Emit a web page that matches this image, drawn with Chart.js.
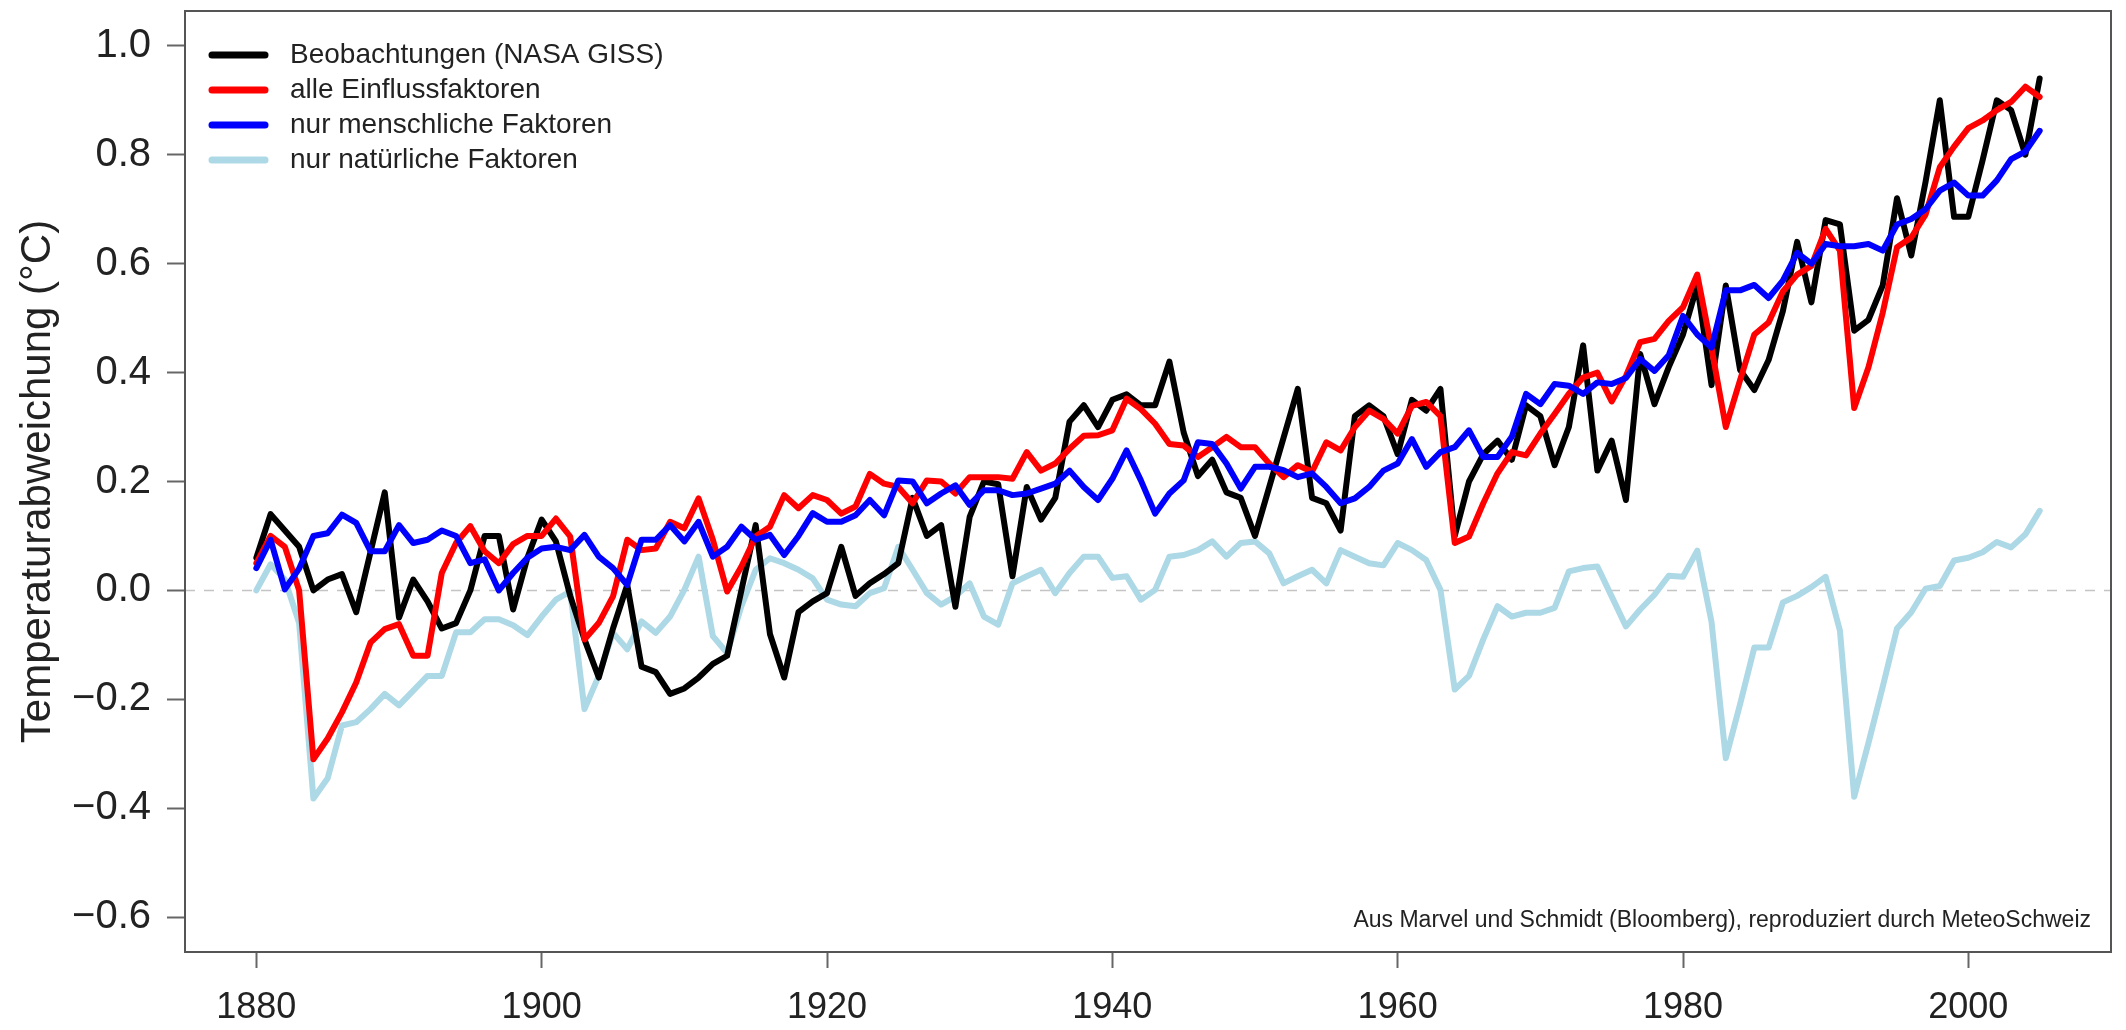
<!DOCTYPE html>
<html><head><meta charset="utf-8">
<script src="https://cdn.jsdelivr.net/npm/chart.js@4"></script>
<style>html,body{margin:0;padding:0;background:#fff}#wrap{width:2126px;height:1030px}</style>
</head><body><div id="wrap"><canvas id="c" width="2126" height="1030"></canvas></div>
<script>
const years = [
1880,1881,1882,1883,1884,1885,1886,1887,1888,1889,
1890,1891,1892,1893,1894,1895,1896,1897,1898,1899,
1900,1901,1902,1903,1904,1905,1906,1907,1908,1909,
1910,1911,1912,1913,1914,1915,1916,1917,1918,1919,
1920,1921,1922,1923,1924,1925,1926,1927,1928,1929,
1930,1931,1932,1933,1934,1935,1936,1937,1938,1939,
1940,1941,1942,1943,1944,1945,1946,1947,1948,1949,
1950,1951,1952,1953,1954,1955,1956,1957,1958,1959,
1960,1961,1962,1963,1964,1965,1966,1967,1968,1969,
1970,1971,1972,1973,1974,1975,1976,1977,1978,1979,
1980,1981,1982,1983,1984,1985,1986,1987,1988,1989,
1990,1991,1992,1993,1994,1995,1996,1997,1998,1999,
2000,2001,2002,2003,2004,2005];

const observations = [
0.06,0.14,0.11,0.08,0.00,0.02,0.03,-0.04,0.07,0.18,
-0.05,0.02,-0.02,-0.07,-0.06,0.00,0.10,0.10,-0.035,0.06,
0.13,0.09,-0.01,-0.09,-0.16,-0.07,0.01,-0.14,-0.15,-0.19,
-0.18,-0.16,-0.135,-0.12,0.00,0.12,-0.08,-0.16,-0.04,-0.02,
-0.005,0.08,-0.01,0.013,0.03,0.05,0.17,0.10,0.12,-0.03,
0.135,0.20,0.195,0.026,0.19,0.13,0.17,0.31,0.34,0.30,
0.35,0.36,0.34,0.34,0.42,0.29,0.21,0.24,0.18,0.17,
0.10,0.19,0.28,0.37,0.17,0.16,0.11,0.32,0.34,0.32,
0.25,0.35,0.33,0.37,0.10,0.20,0.25,0.275,0.24,0.34,
0.32,0.23,0.30,0.45,0.22,0.275,0.166,0.434,0.342,0.41,
0.47,0.56,0.377,0.56,0.405,0.368,0.423,0.513,0.64,0.529,
0.68,0.672,0.477,0.497,0.56,0.72,0.615,0.75,0.90,0.686,
0.686,0.79,0.90,0.882,0.80,0.94];

const allForcings = [
0.05,0.10,0.08,0.00,-0.31,-0.272,-0.224,-0.169,-0.096,-0.071,
-0.062,-0.12,-0.12,0.032,0.087,0.118,0.072,0.05,0.085,0.10,
0.10,0.132,0.099,-0.09,-0.06,-0.011,0.093,0.074,0.077,0.126,
0.114,0.169,0.093,-0.002,0.044,0.099,0.117,0.175,0.151,0.175,
0.166,0.141,0.154,0.214,0.196,0.19,0.16,0.202,0.20,0.178,
0.208,0.208,0.208,0.205,0.254,0.22,0.233,0.26,0.284,0.285,
0.294,0.352,0.333,0.306,0.269,0.266,0.245,0.263,0.282,0.263,
0.263,0.233,0.208,0.23,0.218,0.272,0.257,0.30,0.33,0.315,
0.288,0.339,0.346,0.32,0.087,0.099,0.16,0.215,0.254,0.248,
0.288,0.324,0.361,0.391,0.40,0.347,0.394,0.456,0.462,0.495,
0.52,0.58,0.445,0.30,0.386,0.47,0.492,0.549,0.58,0.596,
0.664,0.624,0.335,0.41,0.51,0.63,0.648,0.69,0.777,0.815,
0.849,0.863,0.882,0.897,0.925,0.906];

const humanOnly = [
0.041,0.093,0.002,0.04,0.10,0.105,0.139,0.124,0.072,0.072,
0.12,0.087,0.093,0.11,0.10,0.05,0.057,0.0,0.032,0.06,
0.077,0.08,0.074,0.102,0.062,0.041,0.01,0.093,0.093,0.12,
0.09,0.126,0.062,0.08,0.117,0.093,0.102,0.065,0.10,0.142,
0.126,0.126,0.138,0.166,0.138,0.202,0.20,0.16,0.178,0.193,
0.157,0.184,0.184,0.175,0.178,0.187,0.196,0.22,0.19,0.166,
0.205,0.257,0.202,0.141,0.178,0.202,0.272,0.269,0.233,0.187,
0.227,0.227,0.221,0.208,0.215,0.19,0.16,0.169,0.19,0.22,
0.233,0.278,0.227,0.254,0.263,0.294,0.245,0.245,0.282,0.361,
0.342,0.379,0.376,0.361,0.382,0.379,0.39,0.425,0.403,0.432,
0.504,0.47,0.446,0.551,0.551,0.561,0.537,0.569,0.62,0.60,
0.636,0.632,0.632,0.636,0.624,0.672,0.682,0.70,0.734,0.749,
0.725,0.725,0.753,0.792,0.806,0.844];

const naturalOnly = [
0.0,0.048,0.02,-0.06,-0.382,-0.345,-0.248,-0.242,-0.218,-0.19,
-0.211,-0.184,-0.157,-0.157,-0.077,-0.077,-0.053,-0.053,-0.064,-0.082,
-0.048,-0.017,-0.002,-0.218,-0.157,-0.078,-0.108,-0.057,-0.078,-0.048,
0.001,0.062,-0.084,-0.115,-0.029,0.038,0.059,0.05,0.038,0.022,
-0.017,-0.026,-0.029,-0.005,0.004,0.08,0.038,-0.005,-0.026,-0.011,
0.013,-0.048,-0.063,0.013,0.026,0.038,-0.005,0.032,0.062,0.062,
0.023,0.026,-0.017,0.001,0.062,0.065,0.074,0.09,0.062,0.087,
0.09,0.068,0.013,0.026,0.038,0.013,0.074,0.062,0.05,0.046,
0.087,0.074,0.056,0.001,-0.182,-0.157,-0.09,-0.029,-0.048,-0.041,
-0.041,-0.032,0.035,0.041,0.044,-0.011,-0.066,-0.035,-0.008,0.027,
0.025,0.073,-0.058,-0.308,-0.209,-0.105,-0.105,-0.022,-0.01,0.006,
0.025,-0.074,-0.379,-0.28,-0.177,-0.07,-0.04,0.003,0.008,0.055,
0.06,0.07,0.089,0.079,0.103,0.146];

const xTickValues = [1880,1900,1920,1940,1960,1980,2000];
const yTickValues = [-0.6,-0.4,-0.2,0,0.2,0.4,0.6,0.8,1.0];
const seriesNames = ['Beobachtungen (NASA GISS)','alle Einflussfaktoren','nur menschliche Faktoren','nur natürliche Faktoren'];
const seriesColors = ['#000000','#ff0000','#0000ff','#add8e6'];
const yAxisTitle = 'Temperaturabweichung (°C)';
const sourceNote = 'Aus Marvel und Schmidt (Bloomberg), reproduziert durch MeteoSchweiz';

const FONT = "'Liberation Sans', Arial, Helvetica, sans-serif";
const seriesValues = [observations, allForcings, humanOnly, naturalOnly];
const drawOrder = [2, 1, 0, 3];

const datasets = seriesValues.map((vals, i) => ({
  label: seriesNames[i],
  data: years.map((yr, k) => ({x: yr, y: vals[k]})),
  borderColor: seriesColors[i],
  backgroundColor: seriesColors[i],
  borderWidth: 6,
  pointRadius: 0,
  pointHoverRadius: 0,
  tension: 0,
  fill: false,
  borderJoinStyle: 'round',
  borderCapStyle: 'round',
  order: drawOrder[i]
}));

const decor = {
  id: 'decor',
  beforeDatasetsDraw(chart) {
    const {ctx, chartArea: a, scales} = chart;
    const y0 = scales.y.getPixelForValue(0);
    ctx.save();
    ctx.strokeStyle = '#c4c4c4';
    ctx.lineWidth = 1.5;
    ctx.setLineDash([10, 9]);
    ctx.beginPath();
    ctx.moveTo(a.left, y0);
    ctx.lineTo(a.right, y0);
    ctx.stroke();
    ctx.restore();
  },
  afterDraw(chart) {
    const {ctx, chartArea: a} = chart;
    ctx.save();
    ctx.strokeStyle = '#555555';
    ctx.lineWidth = 2;
    ctx.strokeRect(a.left, a.top, a.right - a.left, a.bottom - a.top);
    // legend
    ctx.font = '28px ' + FONT;
    ctx.textBaseline = 'middle';
    ctx.textAlign = 'left';
    seriesNames.forEach((name, i) => {
      const yy = a.top + 44 + i * 35;
      ctx.strokeStyle = seriesColors[i];
      ctx.lineWidth = 7;
      ctx.lineCap = 'round';
      ctx.beginPath();
      ctx.moveTo(a.left + 27, yy);
      ctx.lineTo(a.left + 80, yy);
      ctx.stroke();
      ctx.fillStyle = '#222222';
      ctx.fillText(name, a.left + 105, yy);
    });
    // source note
    ctx.font = '23px ' + FONT;
    ctx.textAlign = 'right';
    ctx.fillStyle = '#222222';
    ctx.fillText(sourceNote, a.right - 20, a.bottom - 31);
    ctx.restore();
  }
};

new Chart(document.getElementById('c'), {
  type: 'line',
  data: {datasets},
  options: {
    responsive: false,
    animation: false,
    devicePixelRatio: 1,
    layout: {padding: {top: 11, right: 15, left: 0, bottom: 0}},
    plugins: {legend: {display: false}, tooltip: {enabled: false}},
    scales: {
      x: {
        type: 'linear',
        min: 1875, max: 2010,
        afterBuildTicks: s => { s.ticks = xTickValues.map(v => ({value: v})); },
        afterFit: s => { s.height = 78; s.paddingLeft = 0; s.paddingRight = 0; },
        ticks: {
          font: {size: 36, family: FONT},
          color: '#222222',
          padding: 18,
          maxRotation: 0,
          autoSkip: false,
          callback: v => String(v)
        },
        grid: {drawOnChartArea: false, drawTicks: true, tickLength: 16, tickColor: '#666666', tickWidth: 2},
        border: {display: false}
      },
      y: {
        type: 'linear',
        min: -0.664, max: 1.064,
        afterBuildTicks: s => { s.ticks = yTickValues.map(v => ({value: v})); },
        afterFit: s => { s.width = 185; s.paddingTop = 0; s.paddingBottom = 0; },
        ticks: {
          font: {size: 40, family: FONT},
          color: '#222222',
          padding: 16,
          autoSkip: false,
          callback: v => (v < -1e-9 ? '\u2212' : '') + Math.abs(v).toFixed(1)
        },
        grid: {drawOnChartArea: false, drawTicks: true, tickLength: 18, tickColor: '#666666', tickWidth: 2},
        border: {display: false},
        title: {
          display: true,
          text: yAxisTitle,
          font: {size: 42, family: FONT},
          color: '#222222',
          padding: {top: 13, bottom: 0}
        }
      }
    }
  },
  plugins: [decor]
});
</script>
</body></html>
